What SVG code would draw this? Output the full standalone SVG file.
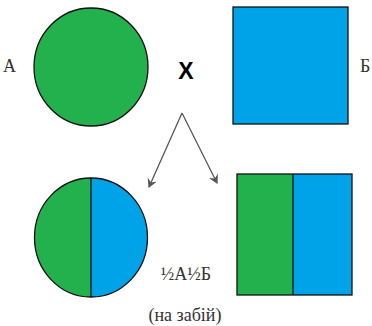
<svg xmlns="http://www.w3.org/2000/svg" width="372" height="326" viewBox="0 0 372 326">
<style>
.g{fill:#22B14C}.b{fill:#00A2E8}
.o{stroke:#111;stroke-width:1.3}
.t{font-family:"Liberation Serif","DejaVu Serif",serif;font-size:18px;fill:#333}
.c{stroke:#555;stroke-width:1.3;fill:none;marker-end:url(#ah)}
</style>
<defs>
<marker id="ah" markerWidth="10" markerHeight="10" refX="8" refY="5" orient="auto" markerUnits="userSpaceOnUse">
<path d="M0,0 L9,5 L0,10 L3,5 Z" fill="#555"/>
</marker>
</defs>
<rect width="372" height="326" fill="#fff"/>
<g id="A">
<ellipse class="g o" cx="91" cy="67" rx="57" ry="59"/>
<text class="t" x="3" y="72">А</text>
</g>
<g id="cross">
<text x="186" y="79" text-anchor="middle" font-family="Liberation Sans,sans-serif" font-weight="bold" font-size="23" fill="#000">X</text>
</g>
<g id="B">
<rect class="b o" x="233" y="7" width="115" height="117"/>
<text class="t" x="360" y="72">Б</text>
</g>
<g id="connectors">
<path class="c" d="M182,113 L149,187"/>
<path class="c" d="M182,113 L217,183"/>
</g>
<g id="hybrid1">
<path class="g" d="M91,178 A56.5,59.5 0 0 0 91,297 Z"/>
<path class="b" d="M91,178 A56.5,59.5 0 0 1 91,297 Z"/>
<ellipse class="o" cx="91" cy="237.5" rx="56.5" ry="59.5" fill="none"/>
<line class="o" x1="91" y1="178" x2="91" y2="297"/>
</g>
<g id="hybrid2">
<rect class="g" x="237" y="174" width="56" height="121"/>
<rect class="b" x="293" y="174" width="59" height="121"/>
<rect class="o" x="237" y="174" width="115" height="121" fill="none"/>
<line class="o" x1="293" y1="174" x2="293" y2="295"/>
</g>
<g id="labels">
<text class="t" x="186" y="280" text-anchor="middle">½А½Б</text>
<text class="t" x="185" y="321" text-anchor="middle">(на забій)</text>
</g>
</svg>
